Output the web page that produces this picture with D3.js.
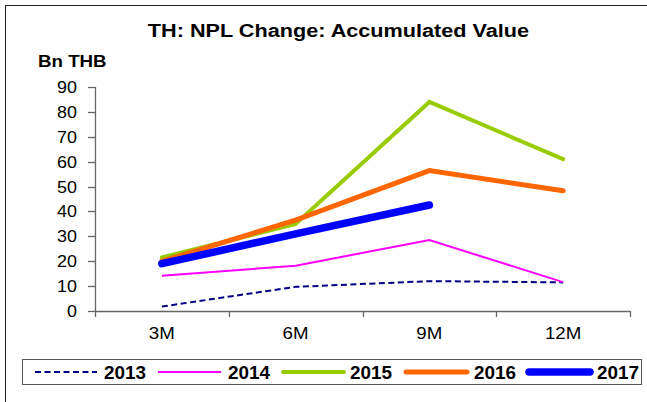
<!DOCTYPE html>
<html>
<head>
<meta charset="utf-8">
<script src="https://cdn.jsdelivr.net/npm/d3@7/dist/d3.min.js"></script>
<style>
  html, body { margin: 0; padding: 0; background: #fff; }
  svg { display: block; font-family: "Liberation Sans", Arial, sans-serif; }
</style>
</head>
<body>
<svg id="chart" width="647" height="402"></svg>
<script>
// Accumulated NPL change, Bn THB, by quarter-end period
const periods = ["3M", "6M", "9M", "12M"];
const years = ["2013", "2014", "2015", "2016", "2017"];
const v2013 = [1.8, 9.7, 12.0, 11.5];
const v2014 = [14.2, 18.2, 28.5, 11.6];
const v2015 = [21.5, 35.0, 84.0, 61.0];
const v2016 = [20.0, 36.5, 56.4, 48.3];
const v2017 = [19.0, 31.0, 42.6];
const yTicks = [0, 10, 20, 30, 40, 50, 60, 70, 80, 90];

const seriesValues = [v2013, v2014, v2015, v2016, v2017];
const styles = [
  { color: "#000080", width: 2, dash: "6,3.5", cap: "butt" },
  { color: "#FF00FF", width: 2, dash: null, cap: "butt" },
  { color: "#99CC00", width: 4, dash: null, cap: "round" },
  { color: "#FF6600", width: 5, dash: null, cap: "round" },
  { color: "#0000FF", width: 7.5, dash: null, cap: "round" }
];

const svg = d3.select("#chart");
const SX = 1.15; // glyphs are drawn slightly wide

function label(g, x, y, txt, size, weight, anchor, sx) {
  return g.append("text")
    .attr("transform", `translate(${x},${y}) scale(${sx || SX},1)`)
    .attr("text-anchor", anchor || "start")
    .attr("font-size", size)
    .attr("font-weight", weight || "normal")
    .attr("fill", "#000")
    .text(txt);
}

// outer frame
svg.append("rect")
  .attr("x", 5.5).attr("y", 5.5)
  .attr("width", 700).attr("height", 500)
  .attr("fill", "none").attr("stroke", "#222").attr("stroke-width", 1);

// title and unit
label(svg, 338.5, 37, "TH: NPL Change: Accumulated Value", 19, "bold", "middle", 1.14);
label(svg, 38, 67, "Bn THB", 16, "bold", "start", 1.17);

const x = d3.scaleBand().domain(periods).range([95, 630]).padding(0);
const y = d3.scaleLinear().domain([0, 90]).range([311, 87]);
const axisColor = "#666";

// y axis
const yAxis = svg.append("g");
yAxis.append("line")
  .attr("x1", 95.5).attr("x2", 95.5)
  .attr("y1", y(90)).attr("y2", y(0))
  .attr("stroke", axisColor).attr("stroke-width", 1.3);
yTicks.forEach(t => {
  yAxis.append("line")
    .attr("x1", 88).attr("x2", 95.5)
    .attr("y1", Math.round(y(t)) + 0.5).attr("y2", Math.round(y(t)) + 0.5)
    .attr("stroke", axisColor).attr("stroke-width", 1.3);
  label(yAxis, 77, y(t) + 6, String(t), 16, "normal", "end", 1.12);
});

// x axis
const xAxis = svg.append("g");
xAxis.append("line")
  .attr("x1", 95).attr("x2", 630)
  .attr("y1", y(0) + 0.5).attr("y2", y(0) + 0.5)
  .attr("stroke", axisColor).attr("stroke-width", 1.3);
const bounds = periods.map(p => x(p)).concat([x(periods[periods.length - 1]) + x.bandwidth()]);
bounds.forEach(b => {
  xAxis.append("line")
    .attr("x1", Math.round(b) + 0.5).attr("x2", Math.round(b) + 0.5)
    .attr("y1", y(0)).attr("y2", y(0) + 6)
    .attr("stroke", axisColor).attr("stroke-width", 1.3);
});
periods.forEach(p => {
  label(xAxis, x(p) + x.bandwidth() / 2, 339, p, 16, "normal", "middle", 1.17);
});

// series lines
const line = d3.line()
  .x((d, i) => x(periods[i]) + x.bandwidth() / 2)
  .y(d => y(d));

seriesValues.forEach((vals, k) => {
  const s = styles[k];
  svg.append("path")
    .datum(vals)
    .attr("d", line)
    .attr("fill", "none")
    .attr("stroke", s.color)
    .attr("stroke-width", s.width)
    .attr("stroke-linecap", s.cap)
    .attr("stroke-linejoin", "miter")
    .attr("stroke-dasharray", s.dash);
});

// legend
const lg = svg.append("g");
lg.append("rect")
  .attr("x", 22.5).attr("y", 359.5)
  .attr("width", 619).attr("height", 25)
  .attr("fill", "#fff").attr("stroke", "#555").attr("stroke-width", 1);
const legendLineX = [[35, 97], [158, 221], [283, 344], [406, 467], [529, 590]];
const legendTextX = [104, 228, 350, 474, 597];
years.forEach((yr, k) => {
  const s = styles[k];
  lg.append("line")
    .attr("x1", legendLineX[k][0]).attr("x2", legendLineX[k][1])
    .attr("y1", 372).attr("y2", 372)
    .attr("stroke", s.color)
    .attr("stroke-width", s.width)
    .attr("stroke-linecap", s.cap)
    .attr("stroke-dasharray", s.dash);
  label(lg, legendTextX[k], 379, yr, 17.5, "bold", "start", 1.08);
});
</script>
</body>
</html>
